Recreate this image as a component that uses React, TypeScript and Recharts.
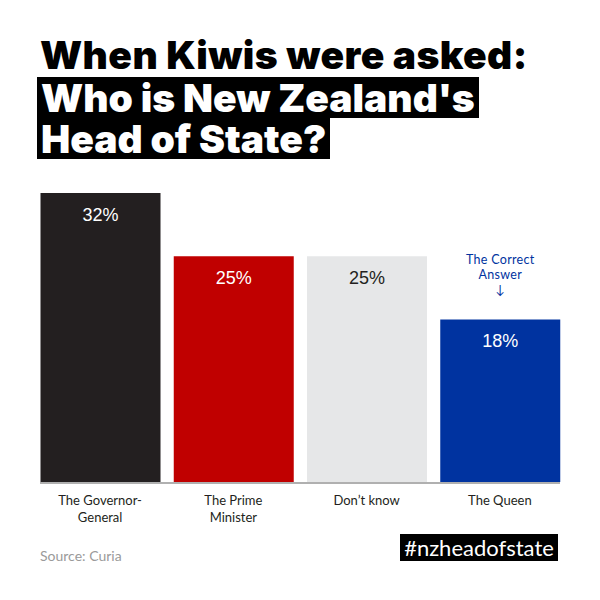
import React from 'react';
import { BarChart, Bar, XAxis, YAxis, Cell, LabelList } from 'recharts';

const categories = ['The Governor-\nGeneral', 'The Prime\nMinister', 'Don\u2019t know', 'The Queen'];
const values = [32, 25, 25, 18];
const valueLabels = ['32%', '25%', '25%', '18%'];
const notes = ['', '', '', 'The Correct Answer'];
const barColors = ['#231f20', '#c00000', '#e6e7e8', '#0033a0'];
const labelColors = ['#ffffff', '#ffffff', '#231f20', '#ffffff'];

const data = categories.map((c, i) => ({
  name: c,
  value: values[i],
  label: valueLabels[i],
  note: notes[i],
}));

const ValueLabel = (props: any) => {
  const { x, y, width, index } = props;
  return (
    <text
      x={x + width / 2}
      y={y + 28}
      textAnchor="middle"
      fontFamily="'Liberation Sans', Arial, sans-serif"
      fontSize={18}
      fill={labelColors[index]}
    >
      {valueLabels[index]}
    </text>
  );
};

const NoteLabel = (props: any) => {
  const { x, y, width, index } = props;
  const note = notes[index];
  if (!note) return null;
  const words = note.split(' ');
  const line1 = words.slice(0, 2).join(' ');
  const line2 = words.slice(2).join(' ');
  const cx = x + width / 2;
  return (
    <text
      x={cx}
      textAnchor="middle"
      fontFamily="Lato, 'Noto Sans', sans-serif"
      fontSize={12.5}
      letterSpacing={0.3}
      fill="#0033a0"
    >
      <tspan x={cx} y={y - 55}>{line1}</tspan>
      <tspan x={cx} y={y - 40}>{line2}</tspan>
      <tspan x={cx} y={y - 25}>{'\u2193'}</tspan>
    </text>
  );
};

const CategoryTick = (props: any) => {
  const { x, y, payload } = props;
  const lines = String(payload.value).split('\n');
  return (
    <text
      x={x}
      textAnchor="middle"
      fontFamily="Lato, 'Noto Sans', sans-serif"
      fontSize={13}
      fill="#231f20"
    >
      {lines.map((l, i) => (
        <tspan key={i} x={x} y={y + 23 + i * 17}>{l}</tspan>
      ))}
    </text>
  );
};

const titleFont = "Inter, 'Noto Sans', sans-serif";
const titleLine: React.CSSProperties = {
  position: 'absolute',
  height: 41,
  lineHeight: '41px',
  fontFamily: titleFont,
  fontWeight: 900,
  fontSize: 39,
  whiteSpace: 'nowrap',
};

export default function App() {
  return (
    <div style={{ position: 'absolute', left: 0, top: 0, width: 600, height: 600, background: '#fff', overflow: 'hidden' }}>
      <div style={{ ...titleLine, left: 40, top: 34, color: '#000', letterSpacing: 0.4 }}>
        When Kiwis were asked:
      </div>
      <div style={{ ...titleLine, left: 37, top: 77, color: '#fff', background: '#000', padding: '0 4px' }}>
        Who is New Zealand's
      </div>
      <div style={{ ...titleLine, left: 37, top: 118, color: '#fff', background: '#000', padding: '0 4px' }}>
        Head of State?
      </div>

      <div style={{ position: 'absolute', left: 0, top: 0 }}>
        <BarChart
          width={600}
          height={600}
          data={data}
          margin={{ top: 193, right: 33.5, bottom: 78, left: 33.5 }}
        >
          <XAxis
            dataKey="name"
            height={40}
            axisLine={false}
            tickLine={false}
            tickSize={0}
            tickMargin={0}
            interval={0}
            tick={<CategoryTick />}
          />
          <YAxis hide width={0} domain={[0, 32]} />
          <Bar dataKey="value" barSize={120} isAnimationActive={false}>
            {data.map((d, i) => (
              <Cell key={i} fill={barColors[i]} />
            ))}
            <LabelList dataKey="label" content={<ValueLabel />} />
            <LabelList dataKey="note" content={<NoteLabel />} />
          </Bar>
        </BarChart>
      </div>

      <div style={{ position: 'absolute', left: 40, top: 482, width: 520, height: 1.5, background: '#b0b0b0' }} />

      <div style={{ position: 'absolute', left: 40, top: 547, fontFamily: "Lato, 'Noto Sans', sans-serif", fontSize: 14, color: '#9a9a9a', lineHeight: '18px' }}>
        Source: Curia
      </div>
      <div style={{ position: 'absolute', left: 400, top: 534, height: 27, width: 158, background: '#000', color: '#fff', fontFamily: "Lato, 'Noto Sans', sans-serif", fontSize: 22, lineHeight: '27px', textAlign: 'center', whiteSpace: 'nowrap' }}>
        #nzheadofstate
      </div>
    </div>
  );
}
